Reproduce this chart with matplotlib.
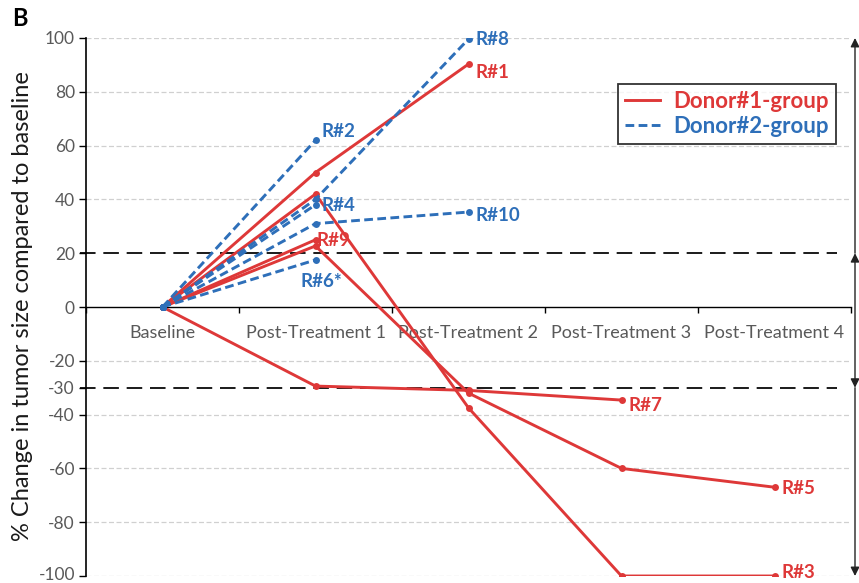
import matplotlib
matplotlib.use("Agg")
import matplotlib.pyplot as plt
from matplotlib.lines import Line2D
import matplotlib.transforms as mtransforms

plt.rcParams['font.family'] = ['Lato', 'DejaVu Sans']

# ---- data -------------------------------------------------------------
categories = ["Baseline", "Post-Treatment 1", "Post-Treatment 2",
              "Post-Treatment 3", "Post-Treatment 4"]

donor1_names = ["R#1", "R#3", "R#5", "R#7", "R#9"]
donor1_values = [
    [0, 50, 90.3],
    [0, 42, -37.5, -100, -100],
    [0, 22.7, -32, -60, -67],
    [0, -29.4, -31, -34.6],
    [0, 25],
]

donor2_names = ["R#2", "R#4", "R#6*", "R#8", "R#10"]
donor2_values = [
    [0, 62],
    [0, 38],
    [0, 17.5],
    [0, 40, 99.6],
    [0, 31, 35.3],
]

ytick_values = [-100, -80, -60, -40, -30, -20, 0, 20, 40, 60, 80, 100]
thresholds = [20, -30]

RED = "#DE3838"
BLUE = "#2E6FB9"
GRAY_TXT = "#595959"

# label offsets in pixels (dx, dy) and horizontal alignment
label_style = {
    "R#1": (7, -8, "left"), "R#3": (7, 4, "left"), "R#5": (7, -1, "left"),
    "R#7": (7, -5, "left"), "R#9": (1, -1, "left"),
    "R#2": (6, 9, "left"), "R#4": (6, -1, "left"), "R#6*": (6, -22, "center"),
    "R#8": (7, 0, "left"), "R#10": (7, -3, "left"),
}

# ---- figure -------------------------------------------------------------
fig = plt.figure(figsize=(8.59, 5.83), dpi=100)
ax = fig.add_axes([86 / 859, 1 - 576 / 583, 765 / 859, 538 / 583])
ax.set_xlim(-0.5, 4.5)
ax.set_ylim(-100, 100)

# light gray dashed gridlines
for g in [100, 80, 60, 40, -20, -40, -60, -80, -100]:
    ax.axhline(g, xmin=0, xmax=0.997, color="#D0D0D0", lw=0.9,
               ls=(0, (4, 2)), zorder=0)

# threshold lines
for t in thresholds:
    ax.axhline(t, xmin=-0.008, xmax=0.982, color="#1a1a1a", lw=1.4,
               ls=(0, (8, 4)), zorder=1, clip_on=False)


def draw_group(names, values, color, style):
    for name, vals in zip(names, values):
        xs = list(range(len(vals)))
        ax.plot(xs, vals, color=color, lw=2.1, ls=style, marker="o",
                markersize=5, markeredgewidth=0, zorder=3,
                dash_capstyle="butt")
        dx, dy, ha = label_style[name]
        ax.annotate(name, (xs[-1], vals[-1]), xytext=(dx, dy),
                    textcoords="offset pixels", ha=ha, va="center",
                    color=color, fontsize=13.5, fontweight="bold", zorder=5)


draw_group(donor1_names, donor1_values, RED, "-")
draw_group(donor2_names, donor2_values, BLUE, (0, (3, 1.5)))

# axes / spines
for s in ["top", "right"]:
    ax.spines[s].set_visible(False)
ax.spines["bottom"].set_position(("data", 0))
ax.spines["bottom"].set_linewidth(1.0)
ax.spines["left"].set_linewidth(1.2)

ax.set_yticks(ytick_values)
ax.set_yticklabels([str(v) for v in ytick_values])
ax.tick_params(axis="y", direction="out", length=5, width=1.0,
               labelsize=12.5, labelcolor=GRAY_TXT, pad=3)
# keep the lowest tick label inside the canvas
lowest = ax.get_yticklabels()[0]
lowest.set_transform(lowest.get_transform() +
                     mtransforms.ScaledTranslation(0, 3 / 100,
                                                   fig.dpi_scale_trans))

ax.set_xticks(range(len(categories)))
ax.set_xticklabels(categories)
ax.set_xticks([i - 0.5 for i in range(len(categories) + 1)], minor=True)
ax.tick_params(axis="x", which="major", length=0, pad=13,
               labelsize=13, labelcolor=GRAY_TXT)
ax.tick_params(axis="x", which="minor", direction="out", length=4, width=1.0)

# y-axis title
fig.text(23 / 859, 1 - 306 / 583, "% Change in tumor size compared to baseline",
         rotation=90, ha="center", va="center", fontsize=17,
         color="#1a1a1a")

# legend
handles = [Line2D([0], [0], color=RED, lw=2.1),
           Line2D([0], [0], color=BLUE, lw=2.1, ls=(0, (3, 1.5)))]
leg = fig.legend(handles, ["Donor#1-group", "Donor#2-group"],
                 loc="upper left", bbox_to_anchor=(618 / 859, 1 - 84 / 583),
                 frameon=True, fancybox=False, handlelength=1.6,
                 handletextpad=0.6, borderpad=0.3, labelspacing=0.2,
                 prop={"size": 16, "weight": "bold"}, borderaxespad=0)
leg.get_frame().set_edgecolor("black")
leg.get_frame().set_linewidth(1.3)
for txt, col in zip(leg.get_texts(), [RED, BLUE]):
    txt.set_color(col)

# response-category arrows along the right edge
trans = mtransforms.blended_transform_factory(fig.transFigure, ax.transData)
xa = 855 / 859
arrow_kw = dict(color="#222222", lw=1.0, mutation_scale=13)
for y0, y1, style in [(20, 100, "-|>"), (-30, 20, "<|-|>"), (-30, -100, "-|>")]:
    ax.annotate("", xy=(xa, y1), xytext=(xa, y0), xycoords=trans,
                textcoords=trans,
                arrowprops=dict(arrowstyle=style, shrinkA=0, shrinkB=0,
                                **arrow_kw),
                annotation_clip=False)

fig.text(12 / 859, 1 - 18 / 583, "B", fontsize=17, fontweight="bold",
         va="center", ha="left", color="black")

fig.savefig("out.png", dpi=100)
